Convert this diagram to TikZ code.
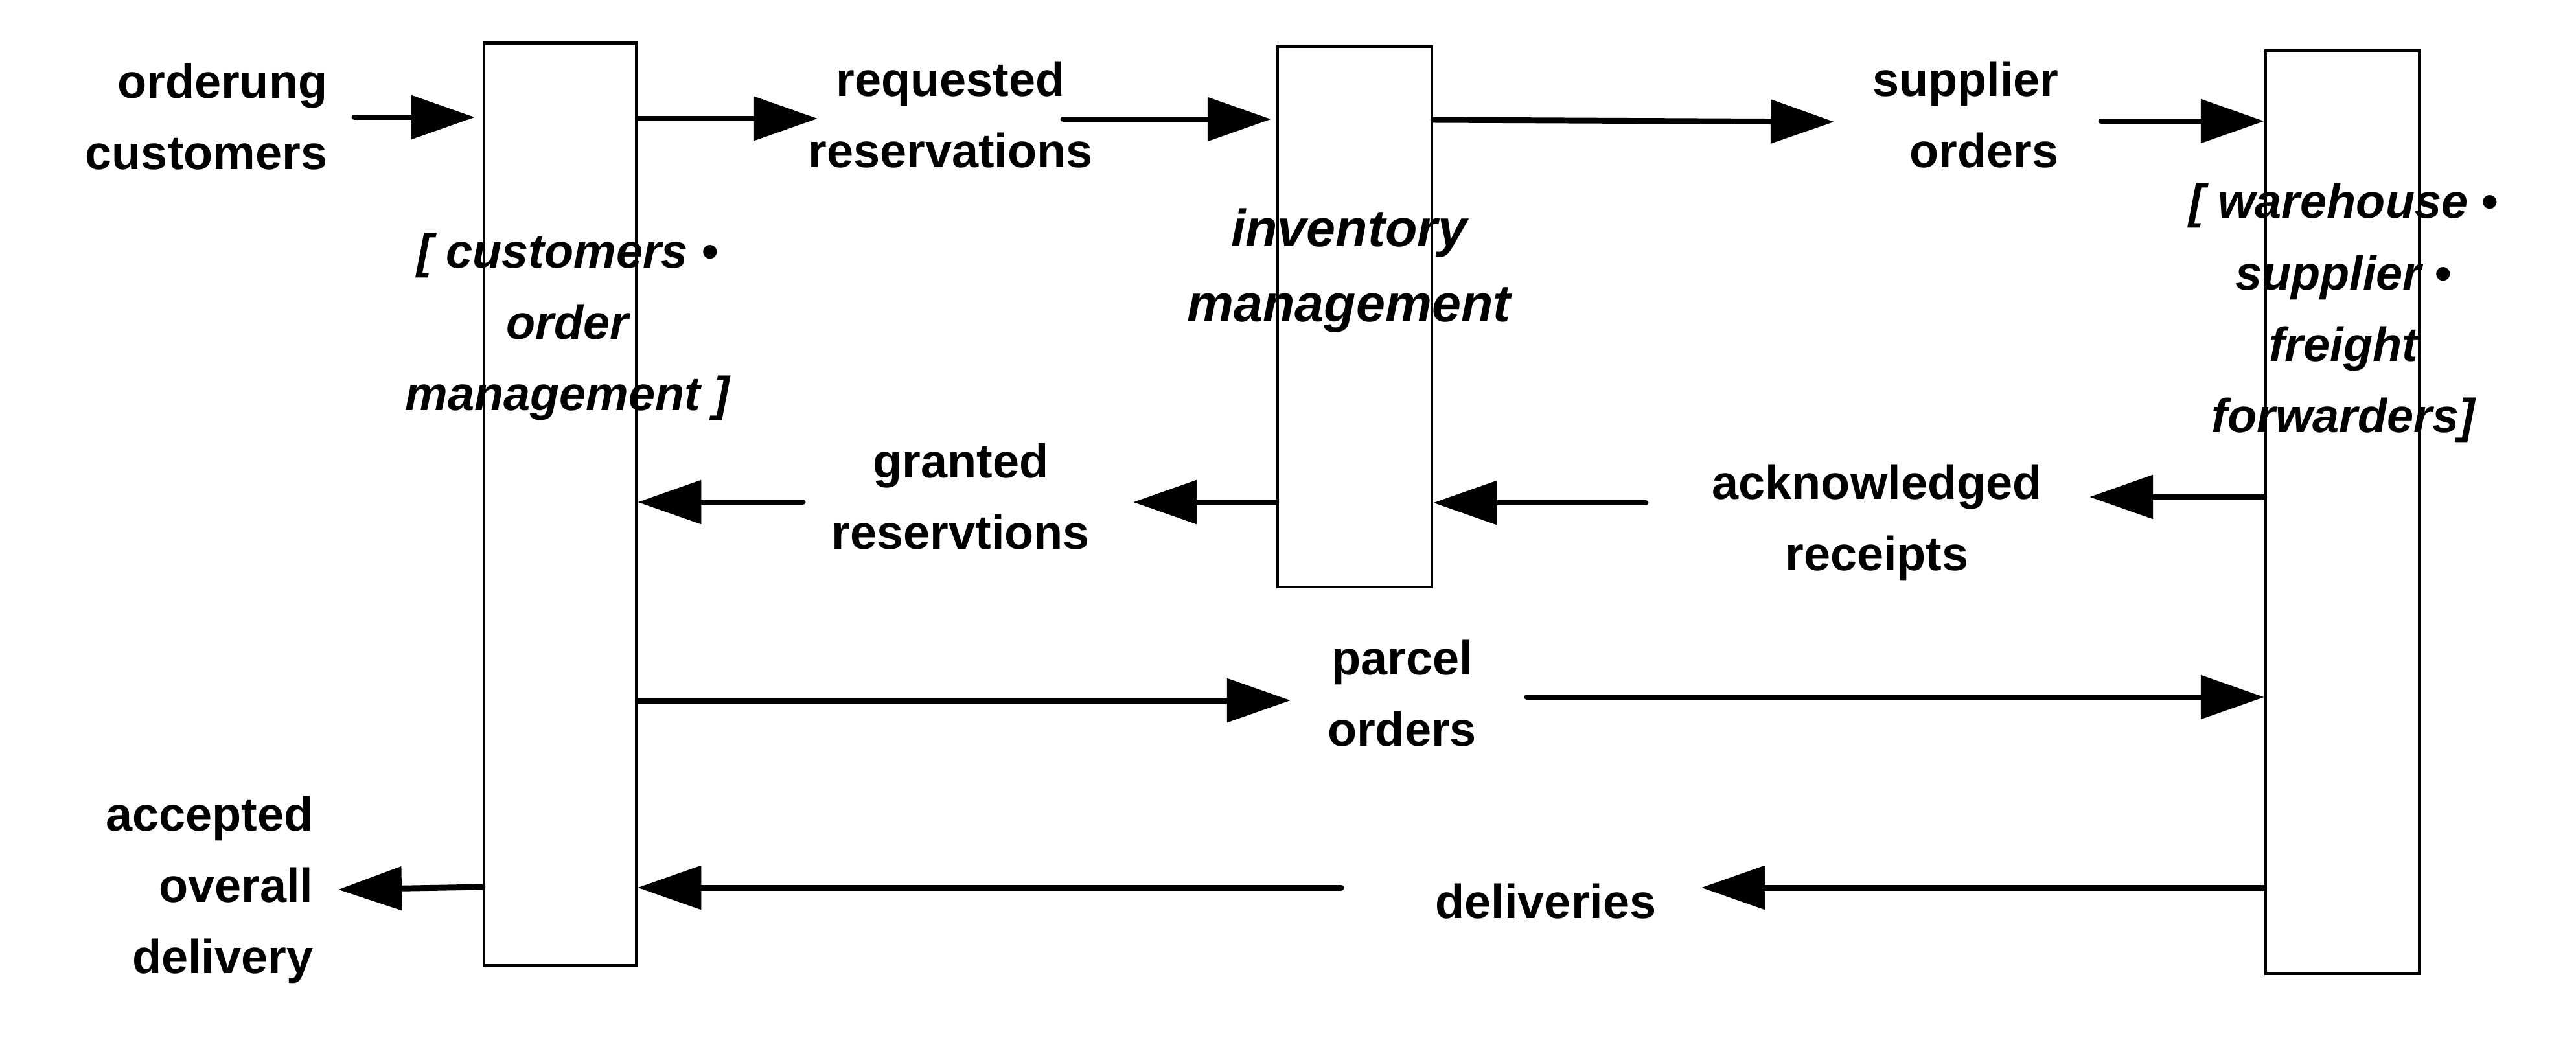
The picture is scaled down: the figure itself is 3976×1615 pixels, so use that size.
\documentclass[tikz,border=0pt]{standalone}
\usepackage{fontspec}
\setmainfont{Liberation Sans}
\usetikzlibrary{arrows.meta}
\begin{document}
\begin{tikzpicture}[x=0.01cm,y=-0.01cm,
  box/.style={draw, line width=1.2pt, inner sep=0},
  lbl/.style={inner sep=0, font=\fontsize{21}{31.3}\selectfont\bfseries},
  ilbl/.style={inner sep=0, align=center, font=\fontsize{21}{31.3}\selectfont\bfseries\itshape},
  arr/.style={line width=2.55pt, line cap=round, -{Triangle[length=0.98cm,width=0.66cm]}}]
\useasboundingbox (0,0) rectangle (3976,1615);
% boxes
\node[box, minimum width=2.35cm, minimum height=14.23cm] (b1) at (864.5,778.5) {};
\node[box, minimum width=2.38cm, minimum height=8.34cm] (b2) at (2091,489) {};
\node[box, minimum width=2.37cm, minimum height=14.23cm] (b3) at (3615.5,790.5) {};
% box labels
\node[ilbl] (l1) at (876,504) {[ customers •\\order\\management ]};
\node[ilbl, font=\fontsize{23}{33}\selectfont\bfseries\itshape] (l2) at (2082,418) {inventory\\management};
\node[ilbl] (l3) at (3617,483) {[ warehouse •\\supplier •\\freight\\forwarders]};
% flow labels
\node[lbl, align=right, anchor=east] (oc) at (506,180) {orderung\\customers};
\node[lbl, align=center] (req) at (1467,177) {requested\\reservations};
\node[lbl, align=right, anchor=east] (sup) at (3178,177) {supplier\\orders};
\node[lbl, align=center] (ack) at (2897,806) {acknowledged\\receipts};
\node[lbl, align=center] (gra) at (1483,766) {granted\\reservtions};
\node[lbl, align=center] (par) at (2164,1070) {parcel\\orders};
\node[lbl] (del) at (2386,1391) {deliveries};
\node[lbl, align=right, anchor=east] (acc) at (484,1373) {accepted\\overall\\delivery};
% connector free ends
\coordinate (a1s) at (547,181);
\coordinate (a2e) at (1262,183);
\coordinate (a3s) at (1641,184);
\coordinate (a4e) at (2831,188);
\coordinate (a5s) at (3243,187);
\coordinate (a6e) at (3225,767);
\coordinate (a7s) at (2540,776);
\coordinate (a8e) at (1749,775);
\coordinate (a9s) at (1239,775);
\coordinate (a10e) at (1992,1081);
\coordinate (a11s) at (2357,1076);
\coordinate (a12e) at (2626,1370);
\coordinate (a13s) at (2070,1370);
\coordinate (a14e) at (522,1373);
% connectors
\draw[arr, shorten >=0.12cm] (a1s) -- (b1.west |- a1s);
\draw[arr] (b1.east |- a2e) -- (a2e);
\draw[arr, shorten >=0.08cm] (a3s) -- (b2.west |- a3s);
\draw[arr] ([yshift=0.03cm]b2.east |- a4e) -- (a4e);
\draw[arr] (a5s) -- (b3.west |- a5s);
\draw[arr] (b3.west |- a6e) -- (a6e);
\draw[arr] (a7s) -- (b2.east |- a7s);
\draw[arr] (b2.west |- a8e) -- (a8e);
\draw[arr] (a9s) -- (b1.east |- a9s);
\draw[arr] (b1.east |- a10e) -- (a10e);
\draw[arr] (a11s) -- (b3.west |- a11s);
\draw[arr] (b3.west |- a12e) -- (a12e);
\draw[arr] (a13s) -- (b1.east |- a13s);
\draw[arr] ([yshift=0.04cm]b1.west |- a14e) -- (a14e);
\end{tikzpicture}
\end{document}
